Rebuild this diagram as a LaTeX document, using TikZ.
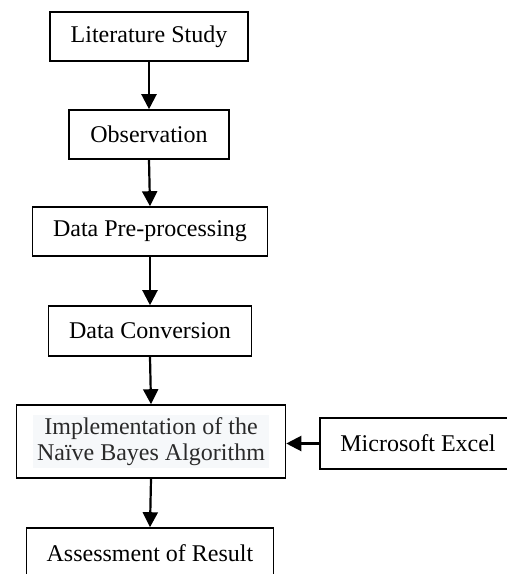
\documentclass[tikz,border=0pt]{standalone}
\usepackage{fontspec}
\setmainfont{Liberation Serif}
\usetikzlibrary{arrows.meta}
\definecolor{notebg}{HTML}{F6F8FA}
\definecolor{notetext}{HTML}{2A2A2A}
\tikzset{
  stepbox/.style={draw, line width=0.8pt, inner sep=0pt, align=center,
    font=\fontsize{12pt}{13.5pt}\selectfont},
  flow/.style={line width=1.1pt, -{Triangle[length=7.5pt,width=7.5pt]}},
}
\begin{document}
\begin{tikzpicture}[x=0.5pt,y=-0.5pt]
  \useasboundingbox (0,0) rectangle (507,574);
  \clip (0,0) rectangle (507,574);
  % main column of steps
  \node[stepbox, minimum width=99pt,   minimum height=24.5pt] (lit)  at (149,36.5)  {Literature Study};
  \node[stepbox, minimum width=80pt,   minimum height=24.5pt] (obs)  at (149,134.5) {Observation};
  \node[stepbox, minimum width=117.5pt,minimum height=24.5pt] (pre)  at (150,231.5) {Data Pre-processing};
  \node[stepbox, minimum width=101.5pt,minimum height=25pt]   (conv) at (150,331)   {Data Conversion};
  \node[stepbox, minimum width=134.5pt,minimum height=36.5pt] (impl) at (151,441.5) {};
  \node[fill=notebg, text=notetext, inner sep=0pt, align=center,
        minimum width=118pt, minimum height=26.5pt,
        font=\fontsize{12pt}{13.2pt}\selectfont] (impltext) at (impl.center)
        {Implementation of the\\Naïve Bayes Algorithm};
  \node[stepbox, minimum width=123.5pt,minimum height=25pt]   (res)  at (150,553)   {Assessment of Result};
  % tool feeding the implementation step
  \node[stepbox, minimum width=98pt,   minimum height=25.5pt] (xls)  at (418,443.5) {Microsoft Excel};
  % connectors
  \draw[flow] (lit.south)  -- (obs.north);
  \draw[flow] (obs.south)  -- (pre.north);
  \draw[flow] (pre.south)  -- (conv.north);
  \draw[flow] (conv.south) -- (impl.north);
  \draw[flow] (impl.south) -- (res.north);
  \draw[flow] (xls.west)   -- (impl.east |- xls.west);
\end{tikzpicture}
\end{document}
